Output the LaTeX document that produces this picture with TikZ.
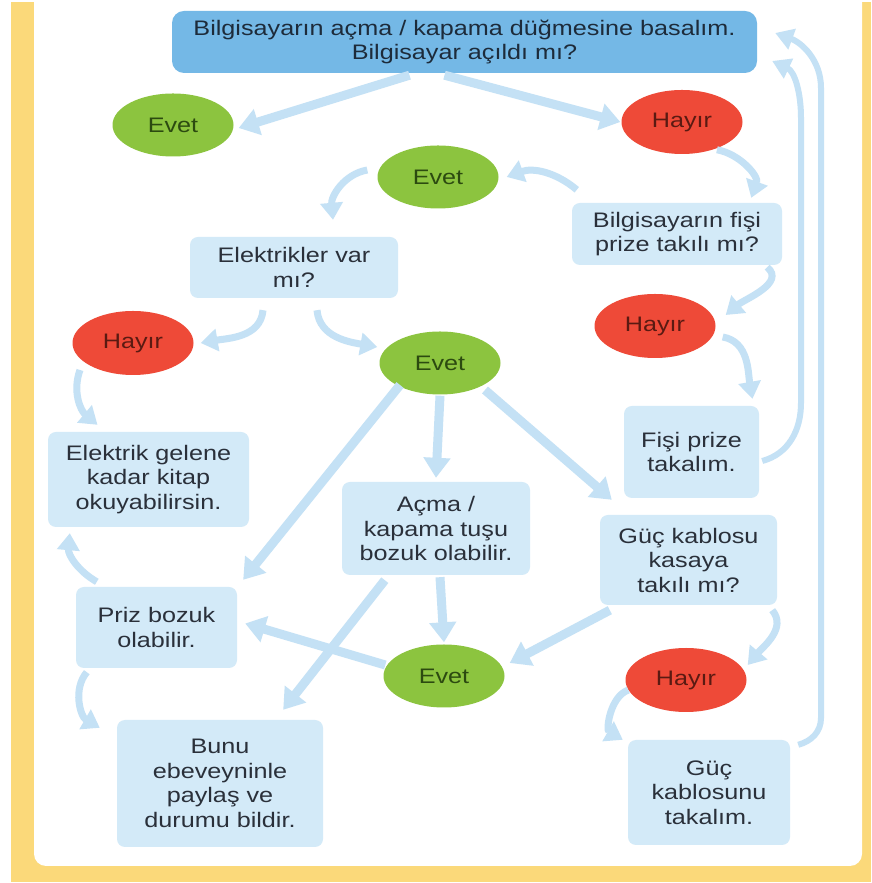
\documentclass[tikz,border=0pt]{standalone}
\usepackage{fontspec}
\setmainfont{Liberation Sans}[FakeStretch=1.2]
\usetikzlibrary{shapes.geometric,arrows.meta}
\definecolor{yel}{HTML}{FBD97A}
\definecolor{topblue}{HTML}{74B8E6}
\definecolor{lightbox}{HTML}{D3EAF8}
\definecolor{arr}{HTML}{C4E1F5}
\definecolor{grn}{HTML}{8CC43F}
\definecolor{rd}{HTML}{EE4A38}
\definecolor{boxtext}{HTML}{2A303A}
\definecolor{toptext}{HTML}{1D2B3A}
\definecolor{grntext}{HTML}{2C4A10}
\definecolor{rdtext}{HTML}{5A1A12}
\begin{document}
\begin{tikzpicture}[x=1pt,y=1pt,
  every node/.style={font=\fontsize{21}{24.5}\selectfont, align=center},
  lbox/.style={fill=lightbox, rounded corners=8pt, text=boxtext, inner sep=0pt},
  topbox/.style={fill=topblue, rounded corners=12pt, text=toptext, inner sep=0pt},
  yesnode/.style={ellipse, fill=grn, text=grntext, inner sep=0pt, minimum width=121pt, minimum height=63pt},
  nonode/.style={ellipse, fill=rd, text=rdtext, inner sep=0pt, minimum width=121pt, minimum height=64pt},
  flow/.style={draw=arr, line width=9pt, -{Triangle[width=26pt,length=20pt]}},
  cflow/.style={draw=arr, line width=7pt, -{Triangle[width=22pt,length=17pt]}},
  lflow/.style={draw=arr, line width=6pt, -{Triangle[width=21pt,length=18pt]}}
]
\useasboundingbox (0,0) rectangle (871,883);
\clip (0,0) rectangle (871,883);
% frame
\fill[yel] (11,1) rectangle (871,881);
\fill[white, rounded corners=12pt] (34,17) rectangle (862,900);

% nodes
\node[topbox, minimum width=585pt, minimum height=62pt] (ntop) at (464.5,841)
  {Bilgisayarın açma / kapama düğmesine basalım.\\Bilgisayar açıldı mı?};
\node[yesnode] (e1) at (173,758) {Evet};
\node[nonode] (h1) at (682,761) {Hayır};
\node[yesnode] (e2) at (438,706) {Evet};
\node[lbox, minimum width=210pt, minimum height=62pt] (fisi) at (677,649)
  {Bilgisayarın fişi\\prize takılı mı?};
\node[lbox, minimum width=208pt, minimum height=61pt] (elek) at (294,615.5)
  {Elektrikler var\\mı?};
\node[nonode] (h2) at (133,540) {Hayır};
\node[nonode] (h3) at (655,557) {Hayır};
\node[yesnode] (e3) at (440,520) {Evet};
\node[lbox, minimum width=135pt, minimum height=92pt] (fisitak) at (691.5,431)
  {Fişi prize\\takalım.};
\node[lbox, minimum width=201pt, minimum height=95pt] (kitap) at (148.5,403.5)
  {Elektrik gelene\\kadar kitap\\okuyabilirsin.};
\node[lbox, minimum width=188pt, minimum height=93pt] (acma) at (436,354.5)
  {Açma /\\kapama tuşu\\bozuk olabilir.};
\node[lbox, minimum width=177pt, minimum height=90pt] (guc) at (688.5,323)
  {Güç kablosu\\kasaya\\takılı mı?};
\node[lbox, minimum width=161pt, minimum height=81pt] (priz) at (156.5,255.5)
  {Priz bozuk\\olabilir.};
\node[yesnode] (e4) at (444,207) {Evet};
\node[nonode] (h4) at (686,203) {Hayır};
\node[lbox, minimum width=206pt, minimum height=127pt] (bunu) at (220,99.5)
  {Bunu\\ebeveyninle\\paylaş ve\\durumu bildir.};
\node[lbox, minimum width=162pt, minimum height=105pt] (guctak) at (709,90.5)
  {Güç\\kablosunu\\takalım.};

% straight connectors
\draw[flow] ([xshift=-55pt,yshift=-2pt]ntop.south) -- ([xshift=5pt,yshift=-3pt]e1.east);
\draw[flow] ([xshift=-20pt,yshift=-2pt]ntop.south) -- ([xshift=-1pt]h1.west);
\draw[flow] ([yshift=-1pt]e3.south) -- ([yshift=4pt]acma.north);
\draw[flow] ([xshift=-40pt,yshift=-22pt]e3.center) -- ([xshift=6pt,yshift=7pt]priz.north east);
\draw[flow] ([xshift=45pt,yshift=-27pt]e3.center) -- ([xshift=12pt,yshift=15pt]guc.north west);
\draw[flow] ([xshift=4pt,yshift=-2pt]acma.south) -- ([xshift=0pt,yshift=2pt]e4.north);
\draw[flow] ([xshift=43pt,yshift=-5pt]acma.south west) -- ([xshift=-40pt,yshift=10pt]bunu.north east);
\draw[flow] ([xshift=10pt,yshift=-5pt]guc.south west) -- ([xshift=5pt,yshift=13pt]e4.east);
\draw[flow] ([xshift=2pt,yshift=11pt]e4.west) -- ([xshift=8pt,yshift=4pt]priz.east);

% curved connectors
\draw[cflow] ([xshift=-8pt,yshift=-5pt]h1.south east) to[out=-10,in=70] ([xshift=-31pt,yshift=5pt]fisi.north east);
\draw[cflow] ([xshift=5pt,yshift=13pt]fisi.north west) to[out=140,in=20] ([xshift=8pt,yshift=0pt]e2.east);
\draw[cflow] ([xshift=-10pt,yshift=7pt]e2.west) to[out=190,in=95] ([xshift=39pt,yshift=17pt]elek.north);
\draw[cflow] ([xshift=-31pt,yshift=-12pt]elek.south) to[out=-95,in=10] ([xshift=7pt,yshift=0pt]h2.east);
\draw[cflow] ([xshift=23pt,yshift=-12pt]elek.south) to[out=-85,in=170] ([xshift=-2pt,yshift=16pt]e3.west);
\draw[cflow] ([xshift=-53pt,yshift=-27pt]h2.center) to[out=-110,in=140] ([xshift=-51pt,yshift=7pt]kitap.north);
\draw[cflow] ([xshift=-15pt,yshift=-2pt]fisi.south east) to[out=-40,in=40] ([xshift=10pt,yshift=11pt]h3.east);
\draw[cflow] ([xshift=7pt,yshift=-11pt]h3.east) to[out=-10,in=100] ([xshift=61pt,yshift=7pt]fisitak.north);
\draw[cflow] ([xshift=-5pt,yshift=-5pt]guc.south east) to[out=-50,in=50] ([xshift=1pt,yshift=15pt]h4.east);
\draw[cflow] ([xshift=3pt,yshift=-10pt]h4.west) to[out=200,in=150] ([xshift=-5pt,yshift=0pt]guctak.north west);
\draw[cflow] ([xshift=21pt,yshift=5pt]priz.north west) to[out=150,in=-95] ([xshift=22pt,yshift=-6pt]kitap.south west);
\draw[cflow] ([xshift=11pt,yshift=-4pt]priz.south west) to[out=-130,in=150] ([xshift=-17pt,yshift=-8pt]bunu.north west);

% long return connectors on the right
\coordinate (ia) at (801,480);
\coordinate (ib) at (801,765);
\coordinate (oa) at (821,165);
\coordinate (ob) at (821,795);
\draw[lflow] ([xshift=3pt,yshift=-9pt]fisitak.east) to[out=15,in=-90] (ia) -- (ib) to[out=90,in=-25] ([xshift=15pt,yshift=-19pt]ntop.east);
\draw[lflow] ([xshift=8pt,yshift=-5pt]guctak.north east) to[out=15,in=-90] (oa) -- (ob) to[out=90,in=-20] ([xshift=18pt,yshift=9pt]ntop.east);
\end{tikzpicture}
\end{document}
